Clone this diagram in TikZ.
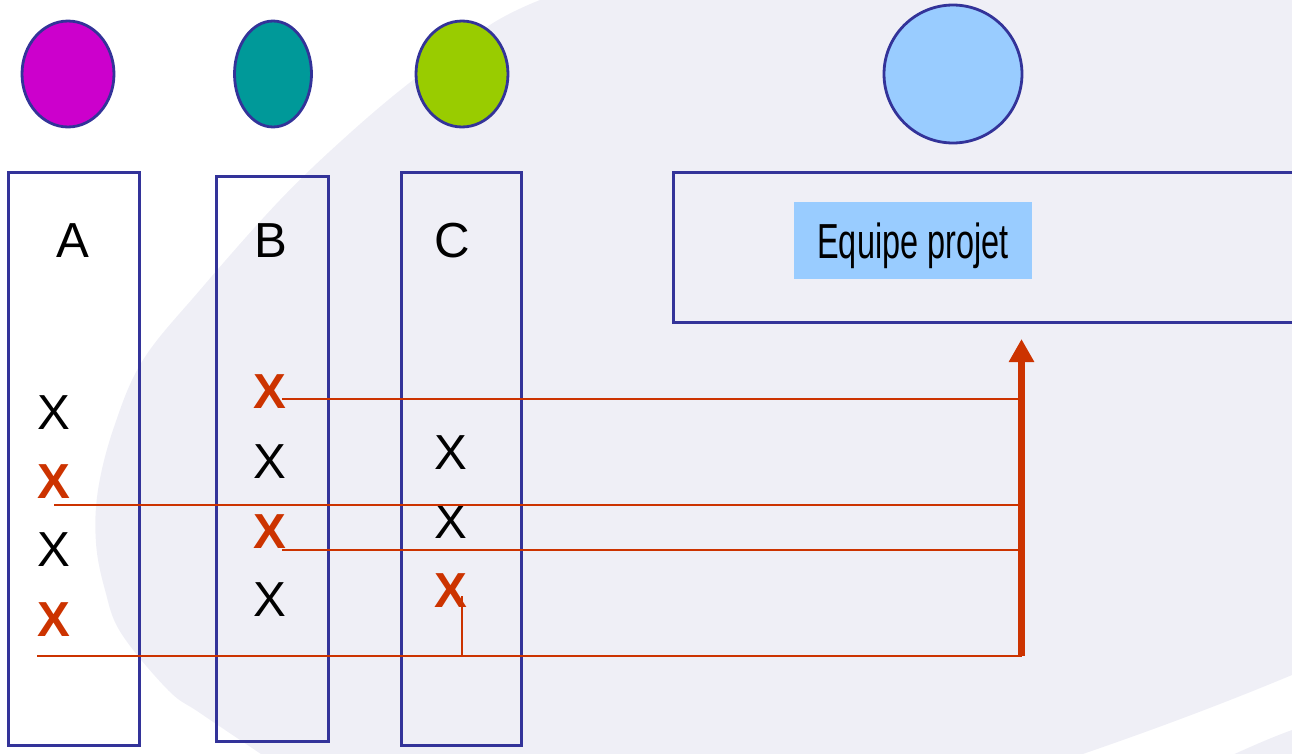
\documentclass[tikz,border=0pt]{standalone}
\usepackage{fontspec}
\setmainfont{Liberation Sans}
\usetikzlibrary{arrows.meta,positioning,shapes.geometric}
\definecolor{lavender}{RGB}{239,239,246}
\definecolor{frame}{RGB}{51,51,153}
\definecolor{rust}{RGB}{204,51,0}
\definecolor{dotpink}{RGB}{204,0,204}
\definecolor{dotteal}{RGB}{0,153,153}
\definecolor{dotgreen}{RGB}{153,204,0}
\definecolor{dotblue}{RGB}{153,204,255}
\tikzset{
  col/.style={draw=frame,line width=1.7pt},
  dot/.style={ellipse,draw=frame,line width=1.6pt,inner sep=0pt},
  xmark/.style={inner sep=0pt,font=\fontsize{28}{30}\selectfont},
  xhit/.style={xmark,text=rust,font=\fontsize{28}{30}\selectfont\bfseries},
  link/.style={draw=rust,line width=1.4pt},
  bus/.style={draw=rust,line width=4pt,-{Triangle[width=0.48cm,length=0.46cm]}},
}
\begin{document}
\begin{tikzpicture}[x=0.02cm,y=-0.02cm]
    \useasboundingbox (0,0) rectangle (1292,754);
    % background
    \fill[lavender] plot[smooth,tension=0.6] coordinates {(540,0) (493,23) (417,77) (350,133) (280,200) (200,290) (143,360) (114,427) (98,490) (96,543) (105,590) (121,633) (168,690) (200,713) (264,756)}
        -- (1077,756) .. controls (1150,731) and (1220,705) .. (1292,675) -- (1292,0) -- cycle;
    \fill[lavender] (1230,756) .. controls (1250,747) and (1270,738) .. (1292,730) -- (1292,756) -- cycle;
    % actors
    \node[dot,fill=dotpink,minimum width=1.84cm,minimum height=2.12cm] (pA) at (68,74) {};
    \node[dot,fill=dotteal,minimum width=1.54cm,minimum height=2.12cm] (pB) at (273,74) {};
    \node[dot,fill=dotgreen,minimum width=1.84cm,minimum height=2.12cm] (pC) at (462,74) {};
    \node[dot,fill=dotblue,minimum size=2.76cm] (pE) at (953,74) {};
    % columns
    \node[col,minimum width=2.64cm,minimum height=11.48cm] (colA) at (74,459) {};
    \node[col,minimum width=2.26cm,minimum height=11.32cm] (colB) at (272.5,459) {};
    \node[col,minimum width=2.42cm,minimum height=11.48cm] (colC) at (461.5,459) {};
    \node[col,minimum width=12.54cm,minimum height=3.02cm] (colE) at (986.5,247.5) {};
    \node[xmark] (A) at (73,241) {A};
    \node[xmark] (B) at (271,241) {B};
    \node[xmark] (C) at (452,241) {C};
    \node[fill=dotblue,minimum width=4.76cm,minimum height=1.54cm,text depth=0pt,
        font=\fontsize{28}{30}\selectfont] (team) at (913,240.5) {\scalebox{0.66}[1]{Equipe projet}};
    % marks
    \node[xmark] (a1) at (54,413) {X};
    \node[xhit] (a2) at (54,482) {X};
    \node[xmark] (a3) at (54,550) {X};
    \node[xhit] (a4) at (54,620) {X};
    \node[xhit] (b1) at (270,392) {X};
    \node[xmark] (b2) at (270,462) {X};
    \node[xhit] (b3) at (270,532) {X};
    \node[xmark] (b4) at (270,600) {X};
    \node[xmark] (c1) at (451,453) {X};
    \node[xmark] (c2) at (451,522) {X};
    \node[xhit] (c3) at (451,591) {X};
    % links
    \coordinate (bustop) at (1021.5,339);
    \coordinate (busbot) at (1021.5,656);
    \coordinate (e1) at (1021.5,399);
    \coordinate (e2) at (1021.5,505);
    \coordinate (e3) at (1021.5,550);
    \draw[link] ([xshift=-0.1cm]b1.east |- e1) -- (e1);
    \draw[link] (a2 |- e2) -- (e2);
    \draw[link] ([xshift=-0.1cm]b3.east |- e3) -- (e3);
    \draw[link] (a4.west |- busbot) -- (busbot);
    \draw[link] ([xshift=0.22cm,yshift=0.24cm]c3.south) -- ([xshift=0.22cm]c3.south |- busbot);
    \draw[bus] (busbot) -- (bustop);
\end{tikzpicture}
\end{document}
